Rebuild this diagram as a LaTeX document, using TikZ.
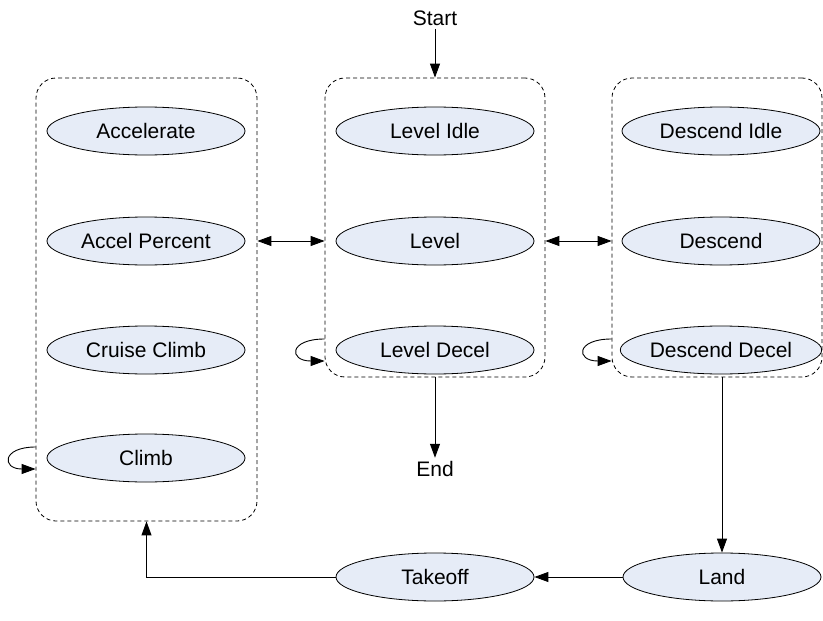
\documentclass[tikz,border=0pt]{standalone}
\usepackage{fontspec}
\setmainfont{Liberation Sans}
\usetikzlibrary{positioning, arrows.meta, shapes.geometric, calc}
\definecolor{stateblue}{HTML}{E6ECF7}

\begin{document}
\begin{tikzpicture}[
      x=1pt, y=-1pt,
      every node/.style={font=\fontsize{21}{25}\selectfont},
      state/.style={draw, ellipse, fill=stateblue, line width=0.8pt, minimum width=198pt, minimum height=48pt, inner sep=0pt},
      group/.style={draw, dash pattern=on 4pt off 3pt, rounded corners=20pt, line width=0.8pt, inner sep=0pt},
      >={Triangle[length=14pt, width=10pt]},
    ]
    \useasboundingbox (0,0) rectangle (823,621);

    % Climb group
    \node[group, minimum width=221pt, minimum height=443pt] (gclimb) at (146.5, 299.5) {};
    \node[state] (accel) at (146, 131) {Accelerate};
    \node[state] (accpct) at (146, 241) {Accel Percent};
    \node[state] (cruise) at (146, 350) {Cruise Climb};
    \node[state] (climb) at (146, 458) {Climb};

    % Level group
    \node[group, minimum width=220pt, minimum height=299pt] (glevel) at (435, 227.5) {};
    \node[state] (lvlidle) at (435, 131) {Level Idle};
    \node[state] (lvl) at (435, 241) {Level};
    \node[state] (lvldec) at (435, 350) {Level Decel};

    % Descend group
    \node[group, minimum width=210pt, minimum height=299pt] (gdesc) at (717, 227.5) {};
    \node[state] (dscidle) at (721, 131) {Descend Idle};
    \node[state] (dsc) at (721, 241) {Descend};
    \node[state] (dscdec) at (721, 350) {Descend Decel};

    % Ground
    \node[state] (land) at (722, 577) {Land};
    \node[state] (takeoff) at (435, 577) {Takeoff};

    \node (start) at (435, 18) {Start};
    \node (end) at (435, 469) {End};

    \draw[->, line width=0.9pt] (start) -- (glevel.north);
    \draw[->, line width=0.9pt] (glevel.south) -- (end);
    \draw[<->, line width=0.9pt] (gclimb.east |- accpct) -- (glevel.west |- lvl);
    \draw[<->, line width=0.9pt] (glevel.east |- lvl) -- (gdesc.west |- dsc);

    % self loops
    \draw[->, line width=0.9pt] ($(gclimb.west |- climb)+(0,-11)$) .. controls +(-34,0) and +(-34,0) .. ($(gclimb.west |- climb)+(0,11)$);
    \draw[->, line width=0.9pt] ($(glevel.west |- lvldec)+(0,-11)$) .. controls +(-36,0) and +(-36,0) .. ($(glevel.west |- lvldec)+(0,11)$);
    \draw[->, line width=0.9pt] ($(gdesc.west |- dscdec)+(0,-11)$) .. controls +(-36,0) and +(-36,0) .. ($(gdesc.west |- dscdec)+(0,11)$);

    \draw[->, line width=0.9pt] (land |- gdesc.south) -- (land);
    \draw[->, line width=0.9pt] (land) -- (takeoff);
    \draw[->, line width=0.9pt] (takeoff.west) -| (gclimb.south);
  \end{tikzpicture}
\end{document}
